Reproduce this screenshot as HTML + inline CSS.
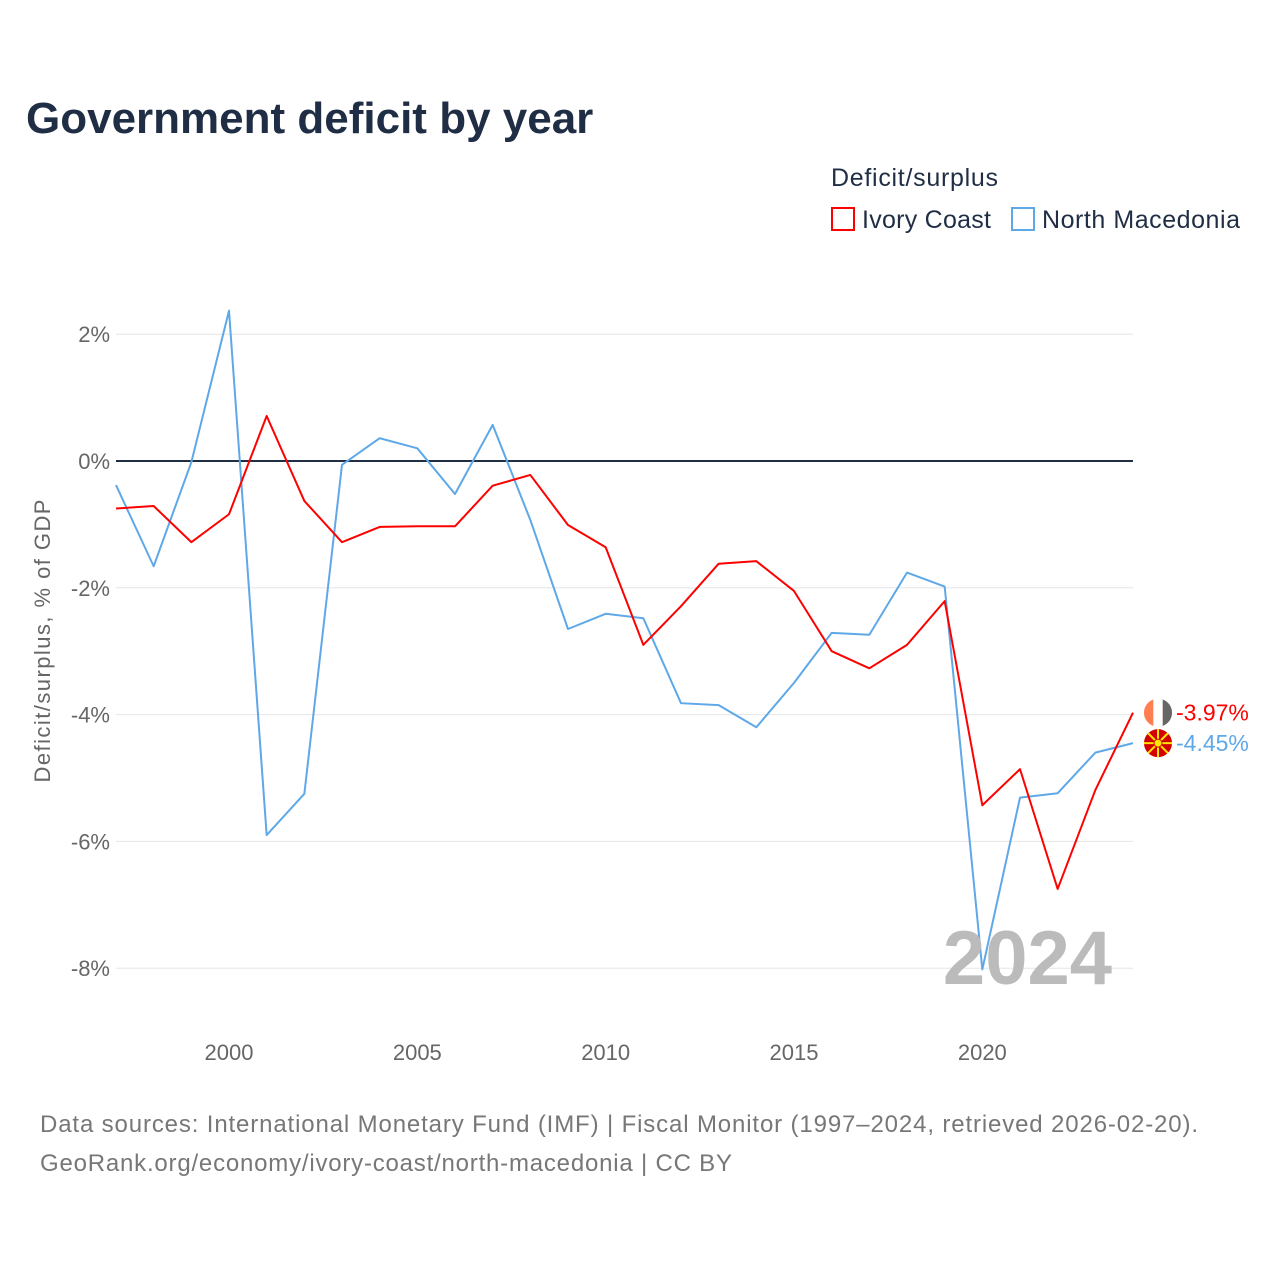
<!DOCTYPE html>
<html><head><meta charset="utf-8">
<style>
body{margin:0;background:#fff;font-family:"Liberation Sans",sans-serif;}
</style></head>
<body>
<svg id="chart" width="1280" height="1280" xmlns="http://www.w3.org/2000/svg" style="font-family:'Liberation Sans',sans-serif">
<text x="26" y="133" font-size="44" font-weight="bold" fill="#1f2d45">Government deficit by year</text>
<text x="831" y="186" font-size="25" fill="#1f2d45" textLength="167">Deficit/surplus</text>
<g>
<rect x="832" y="208" width="22" height="22" fill="#fff" stroke="#ff0000" stroke-width="2"/>
<text x="862" y="228" font-size="25" fill="#1f2d45" textLength="129">Ivory Coast</text></g>
<g>
<rect x="1012" y="208" width="22" height="22" fill="#fff" stroke="#5fa8e8" stroke-width="2"/>
<text x="1042" y="228" font-size="25" fill="#1f2d45" textLength="198">North Macedonia</text></g>
<text transform="translate(50,641) rotate(-90)" text-anchor="middle" font-size="22" fill="#666" textLength="283">Deficit/surplus, % of GDP</text>
<g id="grid"></g><g id="lines"></g>
<text x="1112" y="984" text-anchor="end" font-size="76" font-weight="bold" fill="#bbb">2024</text>
<text x="40" y="1132" font-size="24" fill="#777" textLength="1158">Data sources: International Monetary Fund (IMF) | Fiscal Monitor (1997–2024, retrieved 2026-02-20).</text>
<text x="40" y="1171" font-size="24" fill="#777" textLength="692">GeoRank.org/economy/ivory-coast/north-macedonia | CC BY</text>
</svg>
<script>
const years=[1997,1998,1999,2000,2001,2002,2003,2004,2005,2006,2007,2008,2009,2010,2011,2012,2013,2014,2015,2016,2017,2018,2019,2020,2021,2022,2023,2024];
const ivoryCoast=[-0.75,-0.71,-1.28,-0.84,0.71,-0.63,-1.28,-1.04,-1.03,-1.03,-0.39,-0.22,-1.01,-1.36,-2.9,-2.29,-1.62,-1.58,-2.05,-3.0,-3.27,-2.9,-2.21,-5.43,-4.86,-6.75,-5.19,-3.97];
const northMacedonia=[-0.38,-1.66,-0.02,2.37,-5.9,-5.25,-0.06,0.36,0.2,-0.52,0.57,-0.93,-2.65,-2.41,-2.48,-3.82,-3.85,-4.2,-3.5,-2.71,-2.74,-1.76,-1.98,-8.02,-5.31,-5.24,-4.6,-4.45];
const yTicks=[2,0,-2,-4,-6,-8];
const xTicks=[2000,2005,2010,2015,2020];
const NS="http://www.w3.org/2000/svg";
const x=v=>116+(v-1997)*(1133-116)/27;
const y=v=>461-v*63.4;
function mk(tag,attrs,parent){const e=document.createElementNS(NS,tag);for(const k in attrs)e.setAttribute(k,attrs[k]);parent.appendChild(e);return e;}
const grid=document.getElementById('grid'),lines=document.getElementById('lines');
yTicks.forEach(t=>{
 const l=mk('line',{x1:116,x2:1133,y1:y(t),y2:y(t),stroke:t===0?'#1f2d45':'#e6e6e6','stroke-width':t===0?2:1},grid);
 
 
 const tx=mk('text',{x:110,y:y(t)+8,'text-anchor':'end','font-size':22,fill:'#666'},grid);
 tx.textContent=t+'%';
 
 
});
xTicks.forEach(t=>{
 const tx=mk('text',{x:x(t),y:1060,'text-anchor':'middle','font-size':22,fill:'#666'},grid);
 tx.textContent=t;
 
 
});
function series(vals,color,name){
 const p=mk('polyline',{points:vals.map((v,i)=>x(years[i])+','+y(v)).join(' '),fill:'none',stroke:color,'stroke-width':2,'stroke-linejoin':'round'},lines);
 
 
}
series(northMacedonia,'#5fa8e8','north-macedonia-line');
series(ivoryCoast,'#ff0000','ivory-coast-line');
const lastI=ivoryCoast[ivoryCoast.length-1],lastN=northMacedonia[northMacedonia.length-1];
const lx=x(years[years.length-1]);
const f1=mk('g',{},lines);


mk('circle',{cx:lx+25,cy:y(lastI),r:14,fill:'#fff'},f1);
mk('path',{d:`M${lx+25-4.7},${y(lastI)-13.2} A14,14 0 0 0 ${lx+25-4.7},${y(lastI)+13.2} Z`,fill:'#ff7f50'},f1);
mk('path',{d:`M${lx+25+4.7},${y(lastI)-13.2} A14,14 0 0 1 ${lx+25+4.7},${y(lastI)+13.2} Z`,fill:'#666'},f1);
const f2=mk('g',{},lines);


mk('circle',{cx:lx+25,cy:y(lastN),r:14,fill:'#d20000'},f2);
for(let a=0;a<8;a++){const an=a*Math.PI/4;mk('line',{x1:lx+25,y1:y(lastN),x2:lx+25+14*Math.cos(an),y2:y(lastN)+14*Math.sin(an),stroke:'#ffe600','stroke-width':2},f2);}
mk('circle',{cx:lx+25,cy:y(lastN),r:4,fill:'#ffe600',stroke:'#d20000','stroke-width':1},f2);
const l1=mk('text',{x:lx+43,y:y(lastI)+8,'font-size':23,fill:'#ff0000'},lines);
l1.textContent=lastI.toFixed(2)+'%';


const l2=mk('text',{x:lx+43,y:y(lastN)+8,'font-size':23,fill:'#5fa8e8'},lines);
l2.textContent=lastN.toFixed(2)+'%';


</script>
</body></html>
